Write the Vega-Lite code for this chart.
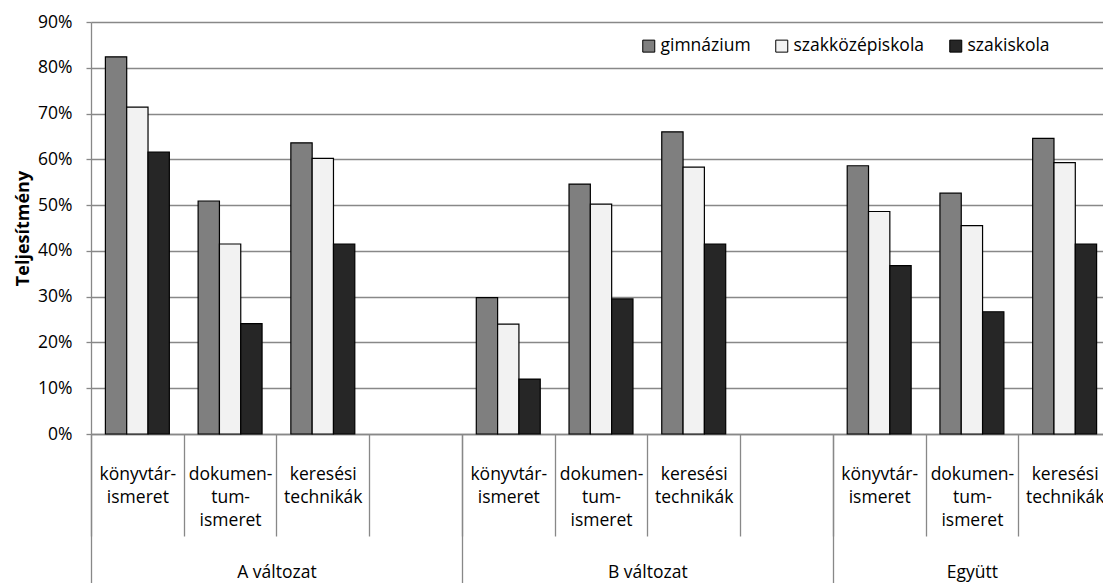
{
  "$schema": "https://vega.github.io/schema/vega-lite/v6.json",
  "width": 1012,
  "height": 412,
  "autosize": {"type": "none"},
  "padding": {"left": 91, "top": 22, "right": 0, "bottom": 149},
  "background": "white",
  "config": {
    "font": "Open Sans",
    "view": {"stroke": null},
    "axis": {"labelColor": "#000", "titleColor": "#000", "labelFont": "Open Sans", "titleFont": "Open Sans"},
    "legend": {"labelFont": "Open Sans", "labelColor": "#000"}
  },
  "data": {
    "values": [
      {"group": "A változat", "slot": "A/könyvtár-/ismeret", "school": "gimnázium", "value": 0.824},
      {"group": "A változat", "slot": "A/könyvtár-/ismeret", "school": "szakközépiskola", "value": 0.714},
      {"group": "A változat", "slot": "A/könyvtár-/ismeret", "school": "szakiskola", "value": 0.616},
      {"group": "A változat", "slot": "A/dokumen-/tum-/ismeret", "school": "gimnázium", "value": 0.509},
      {"group": "A változat", "slot": "A/dokumen-/tum-/ismeret", "school": "szakközépiskola", "value": 0.415},
      {"group": "A változat", "slot": "A/dokumen-/tum-/ismeret", "school": "szakiskola", "value": 0.241},
      {"group": "A változat", "slot": "A/keresési/technikák", "school": "gimnázium", "value": 0.636},
      {"group": "A változat", "slot": "A/keresési/technikák", "school": "szakközépiskola", "value": 0.602},
      {"group": "A változat", "slot": "A/keresési/technikák", "school": "szakiskola", "value": 0.415},
      {"group": "B változat", "slot": "B/könyvtár-/ismeret", "school": "gimnázium", "value": 0.298},
      {"group": "B változat", "slot": "B/könyvtár-/ismeret", "school": "szakközépiskola", "value": 0.240},
      {"group": "B változat", "slot": "B/könyvtár-/ismeret", "school": "szakiskola", "value": 0.120},
      {"group": "B változat", "slot": "B/dokumen-/tum-/ismeret", "school": "gimnázium", "value": 0.546},
      {"group": "B változat", "slot": "B/dokumen-/tum-/ismeret", "school": "szakközépiskola", "value": 0.502},
      {"group": "B változat", "slot": "B/dokumen-/tum-/ismeret", "school": "szakiskola", "value": 0.295},
      {"group": "B változat", "slot": "B/keresési/technikák", "school": "gimnázium", "value": 0.660},
      {"group": "B változat", "slot": "B/keresési/technikák", "school": "szakközépiskola", "value": 0.583},
      {"group": "B változat", "slot": "B/keresési/technikák", "school": "szakiskola", "value": 0.415},
      {"group": "Együtt", "slot": "E/könyvtár-/ismeret", "school": "gimnázium", "value": 0.586},
      {"group": "Együtt", "slot": "E/könyvtár-/ismeret", "school": "szakközépiskola", "value": 0.486},
      {"group": "Együtt", "slot": "E/könyvtár-/ismeret", "school": "szakiskola", "value": 0.368},
      {"group": "Együtt", "slot": "E/dokumen-/tum-/ismeret", "school": "gimnázium", "value": 0.526},
      {"group": "Együtt", "slot": "E/dokumen-/tum-/ismeret", "school": "szakközépiskola", "value": 0.455},
      {"group": "Együtt", "slot": "E/dokumen-/tum-/ismeret", "school": "szakiskola", "value": 0.267},
      {"group": "Együtt", "slot": "E/keresési/technikák", "school": "gimnázium", "value": 0.646},
      {"group": "Együtt", "slot": "E/keresési/technikák", "school": "szakközépiskola", "value": 0.593},
      {"group": "Együtt", "slot": "E/keresési/technikák", "school": "szakiskola", "value": 0.415}
    ]
  },
  "layer": [
    {
      "mark": {"type": "bar", "stroke": "#000", "strokeWidth": 1.2},
      "encoding": {
        "x": {
          "field": "slot",
          "type": "nominal",
          "sort": null,
          "scale": {
            "domain": ["A/könyvtár-/ismeret", "A/dokumen-/tum-/ismeret", "A/keresési/technikák", "A/", "B/könyvtár-/ismeret", "B/dokumen-/tum-/ismeret", "B/keresési/technikák", "B/", "E/könyvtár-/ismeret", "E/dokumen-/tum-/ismeret", "E/keresési/technikák"],
            "range": [0, 1020],
            "paddingInner": 0,
            "paddingOuter": 0
          },
          "axis": {
            "orient": "bottom",
            "title": null,
            "tickBand": "extent",
            "tickSize": 102,
            "tickColor": "#888888",
            "tickWidth": 1.3,
            "domainColor": "#888888",
            "domainWidth": 1.3,
            "grid": false,
            "labelExpr": "slice(split(datum.value, '/'), 1)",
            "labelFontSize": 17.5,
            "labelLineHeight": 23,
            "labelBaseline": "top",
            "labelPadding": -71,
            "labelAngle": 0,
            "labelOverlap": false,
            "labelLimit": 0
          }
        },
        "xOffset": {
          "field": "school",
          "type": "nominal",
          "scale": {"domain": ["gimnázium", "szakközépiskola", "szakiskola"], "paddingInner": 0, "paddingOuter": 0.675}
        },
        "y": {
          "field": "value",
          "type": "quantitative",
          "scale": {"domain": [0, 0.9], "nice": false},
          "axis": {
            "title": "Teljesítmény",
            "titleFontSize": 18,
            "titleFontWeight": "bold",
            "titlePadding": 5,
            "format": ".0%",
            "values": [0, 0.1, 0.2, 0.3, 0.4, 0.5, 0.6, 0.7, 0.8, 0.9],
            "labelFontSize": 17.5,
            "labelPadding": 14,
            "tickSize": 5,
            "tickColor": "#888888",
            "tickWidth": 1.3,
            "domainColor": "#888888",
            "domainWidth": 1.3,
            "grid": true,
            "gridColor": "#888888",
            "gridWidth": 1.3
          }
        },
        "color": {
          "field": "school",
          "type": "nominal",
          "scale": {"domain": ["gimnázium", "szakközépiskola", "szakiskola"], "range": ["#7f7f7f", "#f2f2f2", "#262626"]},
          "legend": {
            "title": null,
            "orient": "none",
            "legendX": 549,
            "legendY": 15,
            "direction": "horizontal",
            "padding": 0,
            "symbolType": "square",
            "symbolSize": 144,
            "symbolStrokeColor": "#000",
            "symbolStrokeWidth": 1,
            "symbolOpacity": 1,
            "labelFontSize": 17.5,
            "labelOffset": 3,
            "columnPadding": 22
          }
        }
      }
    },
    {
      "mark": {"type": "rule", "opacity": 0},
      "encoding": {
        "x": {
          "field": "slot",
          "type": "nominal",
          "sort": null,
          "axis": {
            "orient": "bottom",
            "title": null,
            "values": ["A/dokumen-/tum-/ismeret", "B/dokumen-/tum-/ismeret", "E/dokumen-/tum-/ismeret"],
            "tickOffset": -139.1,
            "tickSize": 149,
            "tickColor": "#888888",
            "tickWidth": 1.3,
            "domain": false,
            "grid": false,
            "labelExpr": "split(datum.value, '/')[0] == 'A' ? 'A változat' : split(datum.value, '/')[0] == 'B' ? 'B változat' : 'Együtt'",
            "labelOffset": {"condition": {"test": "indexof(datum.value, 'E/') == 0", "value": 139.1}, "value": 185.45},
            "labelPadding": -11,
            "labelBaseline": "middle",
            "labelFontSize": 17.5,
            "labelAngle": 0,
            "labelOverlap": false,
            "labelLimit": 0
          }
        }
      }
    }
  ],
  "resolve": {"axis": {"x": "independent"}}
}
